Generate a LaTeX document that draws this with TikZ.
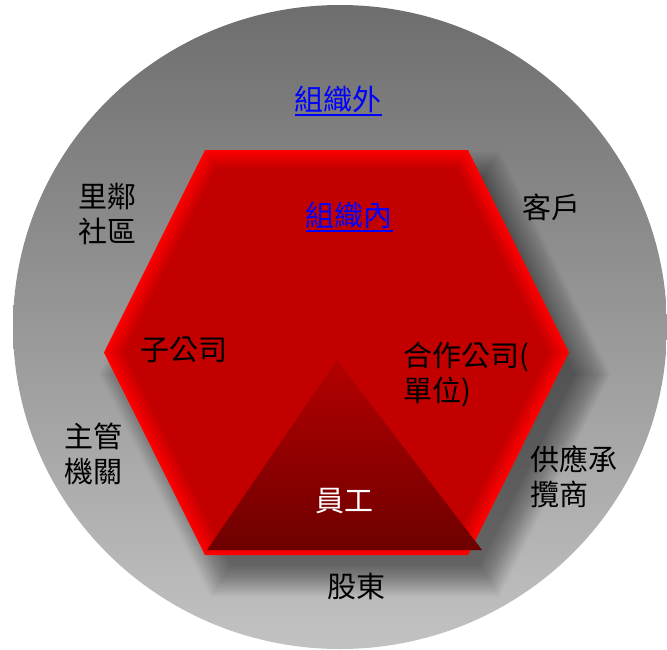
\documentclass[tikz,border=0pt]{standalone}
\usepackage{fontspec}
\newfontfamily\cjk{Noto Sans CJK TC}
\usetikzlibrary{positioning}

\definecolor{circtop}{HTML}{6E6E6E}
\definecolor{circbot}{HTML}{C2C2C2}
\definecolor{hexred}{HTML}{C00000}
\definecolor{tritop}{HTML}{B40000}
\definecolor{tribot}{HTML}{6E0000}
\definecolor{linkblue}{HTML}{0000FF}

% hexagon: half width, half top width, half height
\newcommand\hexshape{(232.5,0) -- (131.5,202.5) -- (-131.5,202.5) -- (-232.5,0) -- (-131.5,-202.5) -- (131.5,-202.5) -- cycle}
\newcommand\ulink[1]{\setbox0=\hbox{#1}\hbox{\rlap{\raisebox{-5pt}{\rule{\wd0}{1.6pt}}}\box0}}

\begin{document}
\begin{tikzpicture}[x=1pt,y=-1pt,
  lbl/.style={font=\cjk\fontsize{29}{35}\selectfont, inner sep=0pt, align=left},
  linklbl/.style={lbl, text=linkblue}]
\useasboundingbox (0,0) rectangle (667,649);
% outer ring
\shade[top color=circtop, bottom color=circbot] (340,327) ellipse [x radius=327, y radius=322];
% soft shadow
\foreach \s in {0,...,31}
  \fill[black, opacity=0.016, shift={(355,374)}, scale={1.10-0.005*\s}] \hexshape;
% bevelled hexagon
\foreach \i [evaluate=\i as \m using 100-6*\i] in {0,...,16}
  \fill[red!\m!hexred, shift={(336.5,352.5)}, scale={1-0.0055*\i}] \hexshape;
% inner triangle
\shade[top color=tritop, bottom color=tribot] (337,360) -- (482,550) -- (207,550) -- cycle;

\node[linklbl] (outer) at (338,101) {\ulink{組織外}};
\node[linklbl] (inner) at (349,217) {\ulink{組織內}};
\node[lbl, anchor=west] (community) at (78,214) {里鄰\\社區};
\node[lbl] (customer) at (551,207) {客戶};
\node[lbl, anchor=west] (subsid) at (140,350) {子公司};
\node[lbl, anchor=west] (partner) at (403,375) {合作公司(\\單位)};
\node[lbl, anchor=west] (authority) at (64,454) {主管\\機關};
\node[lbl, anchor=west] (supplier) at (530,477) {供應承\\攬商};
\node[lbl, text=white] (staff) at (344,501) {員工};
\node[lbl] (holders) at (356,586) {股東};
\end{tikzpicture}
\end{document}
